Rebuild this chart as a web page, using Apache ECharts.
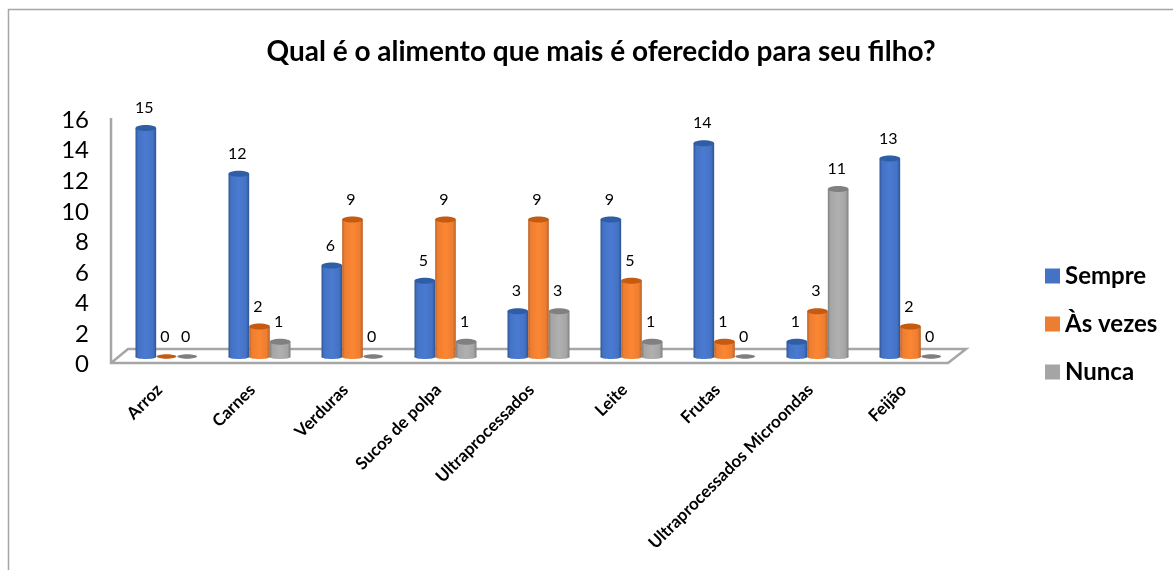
<!DOCTYPE html>
<html><head><meta charset="utf-8">
<style>html,body{margin:0;padding:0;background:#fff}#c{width:1173px;height:570px}</style>
<script src="https://cdn.jsdelivr.net/npm/echarts@6/dist/echarts.min.js"></script>
</head><body><div id="c"></div>
<script>
const categories = ['Arroz','Carnes','Verduras','Sucos de polpa','Ultraprocessados','Leite','Frutas','Ultraprocessados Microondas','Feijão'];
const sempre = [15,12,6,5,3,9,14,1,13];
const asVezes = [0,2,9,9,9,5,1,3,2];
const nunca = [0,1,0,1,3,1,0,11,0];
const yTicks = [0,16];
const titleText = 'Qual é o alimento que mais é oferecido para seu filho?';
const FONT = 'Lato, "Open Sans", sans-serif';
const palettes = [
  {name:'Sempre', base:'#4472c4', edge:'#2c5596', mid:'#4a7bd2', top:'#2f5ea6', zero:'#2f5ea6'},
  {name:'Às vezes', base:'#ed7d31', edge:'#b9622a', mid:'#fb8733', top:'#c55a11', zero:'#c55a11'},
  {name:'Nunca', base:'#a5a5a5', edge:'#7f7f7f', mid:'#b0b0b0', top:'#808080', zero:'#7f7f7f'}
];
const seriesValues = [sempre, asVezes, nunca];
function makeSeries(idx){
  const p = palettes[idx];
  return {
    name:p.name, type:'custom', itemStyle:{color:p.base},
    data: seriesValues[idx].map((v,i)=>[i,v]),
    encode:{x:0,y:1},
    z: 3+idx,
    renderItem(params, api){
      const cat = api.value(0), val = api.value(1);
      const band = api.size([1,0])[0];
      const w = band/4.5;
      const base = api.coord([cat,0]);
      const top = api.coord([cat,val]);
      const cx = base[0] + (idx-1)*w;
      const rx = w/2, ry = 3;
      const label = {type:'text', z2:10, style:{text:String(val), x:cx-1.5, y:top[1]-20, align:'center', verticalAlign:'middle', fontFamily:FONT, fontSize:16, fill:'#000'}};
      if(val===0){
        return {type:'group', children:[
          {type:'ellipse', shape:{cx:cx, cy:base[1]-0.5, rx:rx-0.5, ry:2.2}, style:{fill:p.zero}},
          label
        ]};
      }
      const grad = {type:'linear',x:0,y:0,x2:1,y2:0,colorStops:[{offset:0,color:p.edge},{offset:0.12,color:p.base},{offset:0.5,color:p.mid},{offset:0.85,color:p.base},{offset:1,color:p.edge}]};
      return {type:'group', children:[
        {type:'ellipse', shape:{cx:cx, cy:base[1], rx:rx, ry:ry-1}, style:{fill:grad}},
        {type:'rect', shape:{x:cx-rx, y:top[1], width:w, height:base[1]-top[1]}, style:{fill:grad}},
        {type:'ellipse', shape:{cx:cx, cy:top[1], rx:rx, ry:ry}, style:{fill:p.top}},
        label
      ]};
    }
  };
}
const chart = echarts.init(document.getElementById('c'), null, {renderer:'canvas'});
chart.setOption({
  animation:false,
  backgroundColor:'#fff',
  title:{text:titleText, left:596, top:33, textAlign:'center', textStyle:{fontFamily:FONT, fontWeight:'bold', fontSize:28, color:'#000'}},
  legend:{
    orient:'vertical', left:1040, top:257, itemWidth:15, itemHeight:15, itemGap:20, icon:'rect',
    textStyle:{fontFamily:FONT, fontWeight:'bold', fontSize:24, color:'#000', lineHeight:28},
    data:palettes.map(p=>p.name)
  },
  grid:{left:120, width:837, top:112.7, height:244.3},
  xAxis:{type:'category', data:categories, axisLine:{show:false}, axisTick:{show:false},
    axisLabel:{rotate:45, interval:0, margin:23, padding:[0,10,0,0], fontFamily:FONT, fontWeight:'bold', fontSize:17, color:'#000'}},
  yAxis:{type:'value', min:yTicks[0], max:yTicks[1], interval:2, axisLine:{show:false}, axisTick:{show:false}, splitLine:{show:false},
    axisLabel:{margin:31, verticalAlign:'top', lineHeight:15, fontFamily:FONT, fontSize:24, color:'#000'}},
  series:[0,1,2].map(makeSeries),
  graphic:[
    {type:'polyline', z:1, shape:{points:[[8.5,570],[8.5,9.5],[1173,9.5]]}, style:{stroke:'#a6a6a6', lineWidth:1.5, fill:null}},
    {type:'polyline', z:1, shape:{points:[[111,118],[111,363],[948,363],[966,349],[128,349],[111,363]]}, style:{stroke:'#a6a6a6', lineWidth:2.5, fill:null}}
  ]
});
</script></body></html>
